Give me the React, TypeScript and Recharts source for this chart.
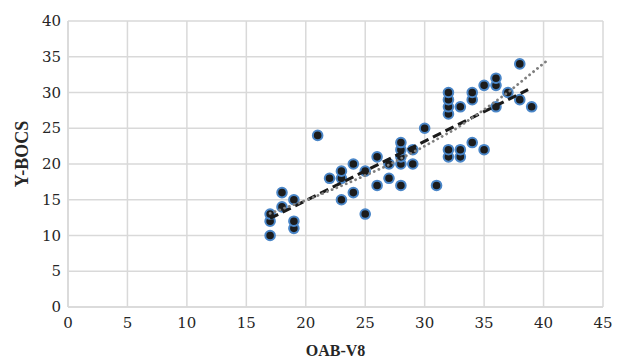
import React from 'react';
import { ScatterChart, Scatter, XAxis, YAxis, CartesianGrid, Label } from 'recharts';

const oabV8 = [17, 17, 17, 18, 18, 19, 19, 19, 21, 22, 23, 23, 23, 24, 24, 25, 25, 26, 26, 27, 27, 28, 28, 28, 28, 28, 29, 29, 30, 31, 32, 32, 32, 32, 32, 32, 33, 33, 33, 34, 34, 34, 35, 35, 36, 36, 36, 37, 38, 38, 39];
const ybocs = [10, 12, 13, 14, 16, 11, 12, 15, 24, 18, 15, 18, 19, 16, 20, 13, 19, 17, 21, 18, 20, 17, 20, 21, 22, 23, 20, 22, 25, 17, 21, 22, 27, 28, 29, 30, 21, 22, 28, 23, 29, 30, 22, 31, 28, 31, 32, 30, 29, 34, 28];

const linearTrendX = [17, 38.7];
const linearTrendY = [12.4, 30.4];

const curveTrendX = [17, 20, 23.5, 26.9, 30, 32.7, 35, 37, 40.4];
const curveTrendY = [13.1, 14.9, 17.3, 19.8, 22.5, 25, 27.6, 30, 34.6];

const xTicks = [0, 5, 10, 15, 20, 25, 30, 35, 40, 45];
const yTicks = [0, 5, 10, 15, 20, 25, 30, 35, 40];

const points = oabV8.map((x, i) => ({ x, y: ybocs[i] }));
const linear = linearTrendX.map((x, i) => ({ x, y: linearTrendY[i] }));
const curve = curveTrendX.map((x, i) => ({ x, y: curveTrendY[i] }));

const FONT = 'DejaVu Serif';
const TITLE_FONT = 'Liberation Serif';
const noShape = () => <g />;

const XTick = (props: any) => {
  const { x, y, payload } = props;
  return (
    <text x={x} y={y + 21} textAnchor="middle" fontFamily={FONT} fontSize={15} fill="#262626">
      {payload.value}
    </text>
  );
};

const YTick = (props: any) => {
  const { x, y, payload } = props;
  return (
    <text x={x} y={y + 5} textAnchor="end" fontFamily={FONT} fontSize={15} fill="#262626">
      {payload.value}
    </text>
  );
};

const Dot = (props: any) => {
  const { cx, cy } = props;
  if (cx == null || cy == null) return <g />;
  return <circle cx={cx} cy={cy} r={4.8} fill="#1c1c1c" stroke="#4a86c8" strokeWidth={2} />;
};

export default function App() {
  return (
    <div style={{ position: 'absolute', left: 0, top: 0, width: 617, height: 359, background: '#fff' }}>
      <ScatterChart width={617} height={359} margin={{ top: 21, right: 14, bottom: 0, left: 0 }}>
        <CartesianGrid stroke="#d9d9d9" strokeWidth={1.5} />
        <XAxis
          type="number"
          dataKey="x"
          domain={[0, 45]}
          ticks={xTicks}
          interval={0}
          height={52}
          tickLine={false}
          tickSize={0}
          tickMargin={0}
          axisLine={{ stroke: '#d9d9d9', strokeWidth: 1.5 }}
          tick={<XTick />}
        >
          <Label
            content={(p: any) => {
              const vb = p.viewBox;
              return (
                <text x={vb.x + vb.width / 2} y={vb.y + vb.height - 3} textAnchor="middle" fontFamily={TITLE_FONT} fontWeight="bold" fontSize={16} fill="#262626">
                  OAB-V8
                </text>
              );
            }}
          />
        </XAxis>
        <YAxis
          type="number"
          dataKey="y"
          domain={[0, 40]}
          ticks={yTicks}
          interval={0}
          width={68}
          tickLine={false}
          tickSize={0}
          tickMargin={7}
          axisLine={{ stroke: '#d9d9d9', strokeWidth: 1.5 }}
          tick={<YTick />}
        >
          <Label
            content={(p: any) => {
              const vb = p.viewBox;
              const cx = vb.x + 28;
              const cy = vb.y + vb.height / 2 - 10;
              return (
                <text x={cx} y={cy} transform={`rotate(-90 ${cx} ${cy})`} textAnchor="middle" fontFamily={TITLE_FONT} fontWeight="bold" fontSize={18} fill="#262626">
                  Y-BOCS
                </text>
              );
            }}
          />
        </YAxis>
        <Scatter data={points} shape={Dot} isAnimationActive={false} />
        <Scatter
          data={linear}
          shape={noShape}
          line={{ stroke: '#1a1a1a', strokeWidth: 3.2, strokeDasharray: '9 5' }}
          isAnimationActive={false}
        />
        <Scatter
          data={curve}
          shape={noShape}
          line={{ stroke: '#7f7f7f', strokeWidth: 2.8, strokeDasharray: '0.1 5', strokeLinecap: 'round' }}
          isAnimationActive={false}
        />
      </ScatterChart>
    </div>
  );
}
